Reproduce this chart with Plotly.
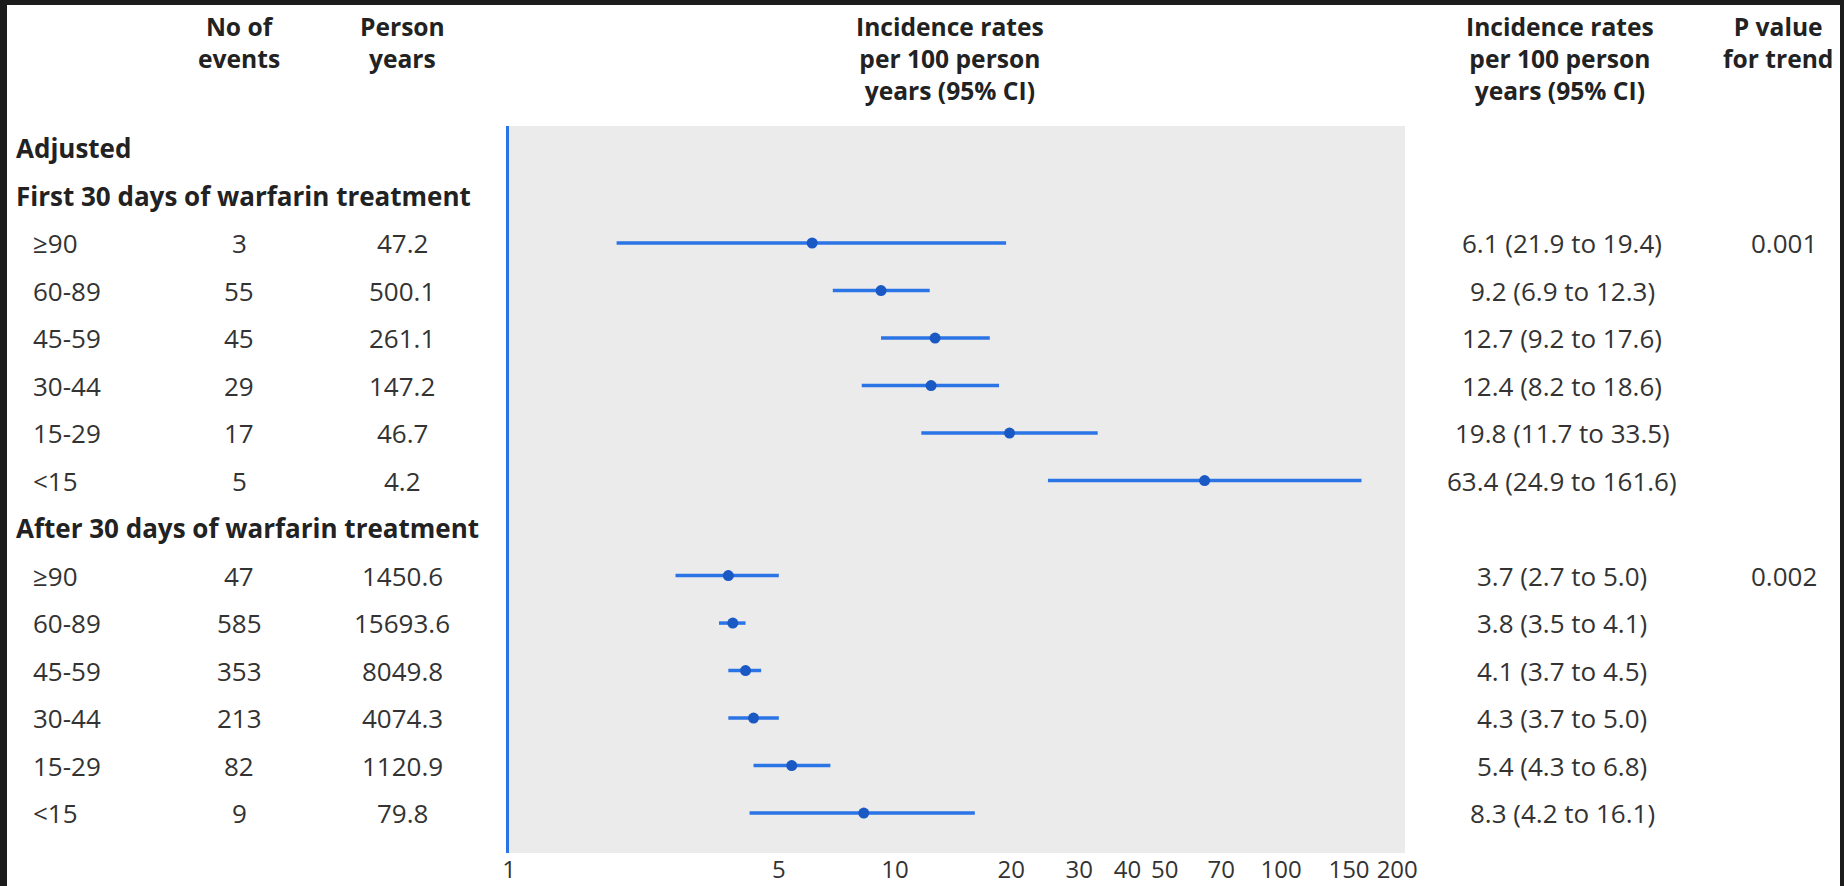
import plotly.graph_objects as go
import math

# ---------------- data ----------------
age_groups = ["≥90", "60-89", "45-59", "30-44", "15-29", "<15"]
section_titles = ["First 30 days of warfarin treatment", "After 30 days of warfarin treatment"]

first_events = [3, 55, 45, 29, 17, 5]
first_person_years = ["47.2", "500.1", "261.1", "147.2", "46.7", "4.2"]
first_rate = [6.1, 9.2, 12.7, 12.4, 19.8, 63.4]
first_lo = [1.9, 6.9, 9.2, 8.2, 11.7, 24.9]
first_hi = [19.4, 12.3, 17.6, 18.6, 33.5, 161.6]
first_ci_text = ["6.1 (21.9 to 19.4)", "9.2 (6.9 to 12.3)", "12.7 (9.2 to 17.6)",
                 "12.4 (8.2 to 18.6)", "19.8 (11.7 to 33.5)", "63.4 (24.9 to 161.6)"]
first_p = "0.001"

after_events = [47, 585, 353, 213, 82, 9]
after_person_years = ["1450.6", "15693.6", "8049.8", "4074.3", "1120.9", "79.8"]
after_rate = [3.7, 3.8, 4.1, 4.3, 5.4, 8.3]
after_lo = [2.7, 3.5, 3.7, 3.7, 4.3, 4.2]
after_hi = [5.0, 4.1, 4.5, 5.0, 6.8, 16.1]
after_ci_text = ["3.7 (2.7 to 5.0)", "3.8 (3.5 to 4.1)", "4.1 (3.7 to 4.5)",
                 "4.3 (3.7 to 5.0)", "5.4 (4.3 to 6.8)", "8.3 (4.2 to 16.1)"]
after_p = "0.002"

tick_values = [1, 5, 10, 20, 30, 40, 50, 70, 100, 150, 200]
tick_labels = ["1", "5", "10", "20", "30", "40", "50", "70", "100", "150", "200"]

header_events = ["No of", "events"]
header_py = ["Person", "years"]
header_ir = ["Incidence rates", "per 100 person", "years (95% CI)"]
header_p = ["P value", "for trend"]

# ---------------- layout geometry ----------------
W, H = 1844, 886
ML, MR, MT, MB = 509, 439, 126, 33
PW = W - ML - MR
PH = H - MT - MB

def px(x):
    return (x - ML) / PW

def py(y):
    return 1 - (y - MT) / PH

FONT = "Open Sans"
TXT = "#333333"
HDR = "#222222"
BLUE = "#2b74e6"
DOT = "#1a58c4"
FS = 26
HFS = 24.6

# rows: 0 Adjusted, 1 first header, 2-7 first rows, 8 after header, 9-14 after rows
first_rows = list(range(2, 8))
after_rows = list(range(9, 15))

fig = go.Figure()

for rows, rate, lo, hi in [(first_rows, first_rate, first_lo, first_hi),
                           (after_rows, after_rate, after_lo, after_hi)]:
    fig.add_trace(go.Scatter(
        x=rate, y=rows, mode="markers",
        marker=dict(color=DOT, size=11, symbol="circle"),
        error_x=dict(type="data", symmetric=False,
                     array=[h - r for h, r in zip(hi, rate)],
                     arrayminus=[r - l for r, l in zip(rate, lo)],
                     color=BLUE, thickness=3.5, width=0),
        showlegend=False, hoverinfo="skip",
    ))

ann = []

def add(text, x, y, yref="y", xanchor="center", yanchor="middle", size=FS, bold=False, color=TXT):
    ann.append(dict(
        text=("<b>%s</b>" % text) if bold else text,
        x=px(x), xref="paper", y=y if yref == "y" else py(y), yref=yref,
        xanchor=xanchor, yanchor=yanchor, showarrow=False,
        font=dict(family=FONT, size=size, color=color),
    ))

# headers (multi-line, top aligned)
add("<br>".join(header_events), 239, 8, yref="paper", yanchor="top", size=HFS, bold=True, color=HDR)
add("<br>".join(header_py), 402, 8, yref="paper", yanchor="top", size=HFS, bold=True, color=HDR)
add("<br>".join(header_ir), 950, 8, yref="paper", yanchor="top", size=HFS, bold=True, color=HDR)
add("<br>".join(header_ir), 1560, 8, yref="paper", yanchor="top", size=HFS, bold=True, color=HDR)
add("<br>".join(header_p), 1778, 8, yref="paper", yanchor="top", size=HFS, bold=True, color=HDR)

add("Adjusted", 14, 0, xanchor="left", bold=True, color=HDR)
add(section_titles[0], 14, 1, xanchor="left", bold=True, color=HDR)
add(section_titles[1], 14, 8, xanchor="left", bold=True, color=HDR)

for rows, ev, pyrs, ci, p in [(first_rows, first_events, first_person_years, first_ci_text, first_p),
                              (after_rows, after_events, after_person_years, after_ci_text, after_p)]:
    for k, (r, g, e, pyy, c) in enumerate(zip(rows, age_groups, ev, pyrs, ci)):
        add(g, 31, r, xanchor="left")
        add(str(e), 239, r)
        add(pyy, 402, r)
        add(c, 1562, r)
        if k == 0:
            add(p, 1784, r)

# dark frame strips of the screenshot
shapes = [
    dict(type="rect", xref="paper", yref="paper", x0=px(0), x1=px(W), y0=py(0), y1=py(5),
         fillcolor="#1c1c1c", line=dict(width=0), layer="above"),
    dict(type="rect", xref="paper", yref="paper", x0=px(0), x1=px(7), y0=py(0), y1=py(H),
         fillcolor="#1c1c1c", line=dict(width=0), layer="above"),
    dict(type="rect", xref="paper", yref="paper", x0=px(1840), x1=px(W), y0=py(0), y1=py(H),
         fillcolor="#1c1c1c", line=dict(width=0), layer="above"),
]

fig.update_layout(
    width=W, height=H,
    margin=dict(l=ML, r=MR, t=MT, b=MB, pad=0, autoexpand=False),
    paper_bgcolor="white", plot_bgcolor="#ebebeb",
    annotations=ann, shapes=shapes,
    xaxis=dict(type="log", range=[0, math.log10(209.5)],
               tickvals=tick_values, ticktext=tick_labels, tickangle=0,
               showgrid=False, zeroline=False, showline=False, ticks="",
               ticklabelstandoff=0, automargin=False,
               tickfont=dict(family=FONT, size=24, color=TXT), fixedrange=True),
    yaxis=dict(range=[14.84, -0.463], showticklabels=False, showgrid=False,
               zeroline=False, showline=True, linecolor=BLUE, linewidth=3, ticks="",
               automargin=False, fixedrange=True),
)

fig.write_html("out.html")
